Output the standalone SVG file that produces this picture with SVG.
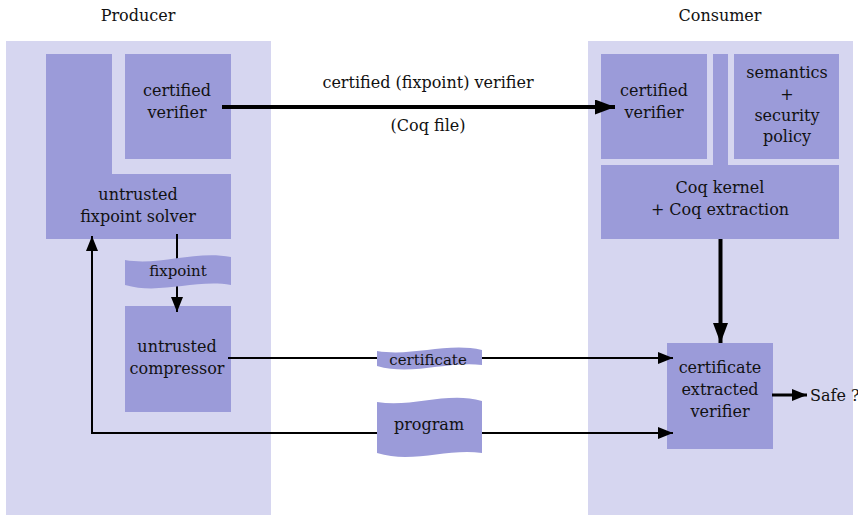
<svg xmlns="http://www.w3.org/2000/svg" width="858" height="515" viewBox="0 0 858 515">
<style>
.panel{fill:#d6d6f0}
.box{fill:#9b9bd9}
text{font-family:"DejaVu Serif","Liberation Serif",serif;font-size:16px;fill:#111;text-anchor:middle}
.sm{font-size:15px}
.ln{fill:none;stroke:#000;stroke-width:2}
.thick{stroke-width:4}
</style>
<defs>
<marker id="ah" markerUnits="userSpaceOnUse" markerWidth="16" markerHeight="12" refX="15" refY="6" orient="auto"><path d="M0,0 L15,6 L0,12 Z" fill="#000"/></marker>
<marker id="ahT" markerUnits="userSpaceOnUse" markerWidth="21" markerHeight="16" refX="20" refY="7.5" orient="auto"><path d="M0,0 L20,7.5 L0,15 Z" fill="#000"/></marker>
</defs>
<rect class="panel" x="6" y="41" width="265" height="474"/>
<rect class="panel" x="588" y="41" width="265" height="474"/>
<text x="138" y="21">Producer</text>
<text x="720" y="21">Consumer</text>
<g id="solver"><path class="box" d="M46,54 H112 V174 H231 V239 H46 Z"/><text x="138" y="200">untrusted</text><text x="138" y="222">fixpoint solver</text></g>
<g id="prod-verifier"><rect class="box" x="125" y="54" width="106" height="105"/><text x="177" y="96">certified</text><text x="177" y="118">verifier</text></g>
<g id="compressor"><rect class="box" x="125" y="306" width="106" height="106"/><text x="177" y="352">untrusted</text><text x="177" y="374">compressor</text></g>
<g id="cons-verifier"><rect class="box" x="601" y="54" width="106" height="105"/><text x="654" y="96">certified</text><text x="654" y="118">verifier</text></g>
<g id="semantics"><rect class="box" x="734" y="54" width="105" height="105"/><text x="787" y="78">semantics</text><text x="787" y="100">+</text><text x="787" y="121">security</text><text x="787" y="142">policy</text></g>
<g id="coq"><path class="box" d="M713,54 H728 V165 H839 V239 H601 V165 H713 Z"/><text x="720" y="193">Coq kernel</text><text x="720" y="215">+ Coq extraction</text></g>
<g id="extracted"><rect class="box" x="667" y="343" width="106" height="106"/><text x="720" y="373">certificate</text><text x="720" y="395">extracted</text><text x="720" y="417">verifier</text></g>
<g id="connectors">
<path class="ln thick" d="M222,107 H615" marker-end="url(#ahT)"/>
<path class="ln" d="M177,234 V312" marker-end="url(#ah)"/>
<path class="ln" d="M228,358 H673" marker-end="url(#ah)"/>
<path class="ln" d="M400,433 H92 V236" marker-end="url(#ah)"/>
<path class="ln" d="M400,433 H673" marker-end="url(#ah)"/>
<path class="ln thick" d="M720.5,239 V343" marker-end="url(#ahT)"/>
<path class="ln" style="stroke-width:3" d="M772,395 H807" marker-end="url(#ah)"/>
</g>
<text x="428" y="88">certified (fixpoint) verifier</text>
<text x="428" y="131">(Coq file)</text>
<g id="fixpoint"><path class="box" d="M125,260 C160,266 195,250 231,257 L231,285 C195,279 160,295 125,285 Z"/><text class="sm" x="178" y="276">fixpoint</text></g>
<g id="certificate"><path class="box" d="M377,351 C412,357 447,342 482,350 L482,365 C447,361 412,376 377,366 Z"/><text class="sm" x="428" y="365">certificate</text></g>
<g id="program"><path class="box" d="M377,402 C412,408 447,391 482,401 L482,453 C447,448 412,464 377,453 Z"/><text x="429" y="430">program</text></g>
<text x="810" y="401" style="text-anchor:start">Safe ?</text>
</svg>
